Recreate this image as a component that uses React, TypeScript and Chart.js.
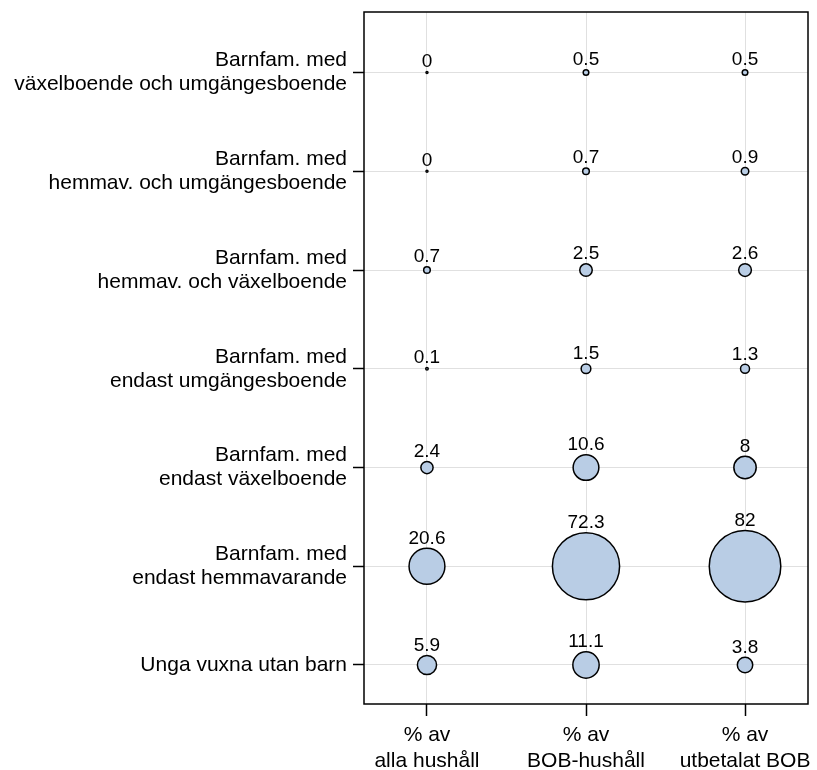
import { useEffect, useRef } from 'react';
import { Chart, registerables } from 'chart.js';

Chart.register(...registerables);

const rowLabels: string[][] = [
  ['Barnfam. med', 'växelboende och umgängesboende'],
  ['Barnfam. med', 'hemmav. och umgängesboende'],
  ['Barnfam. med', 'hemmav. och växelboende'],
  ['Barnfam. med', 'endast umgängesboende'],
  ['Barnfam. med', 'endast växelboende'],
  ['Barnfam. med', 'endast hemmavarande'],
  ['Unga vuxna utan barn'],
];

const columnLabels: string[][] = [
  ['% av', 'alla hushåll'],
  ['% av', 'BOB-hushåll'],
  ['% av', 'utbetalat BOB'],
];

const allaHushall = [0, 0, 0.7, 0.1, 2.4, 20.6, 5.9];
const bobHushall = [0.5, 0.7, 2.5, 1.5, 10.6, 72.3, 11.1];
const utbetalatBob = [0.5, 0.9, 2.6, 1.3, 8, 82, 3.8];

const seriesList = [allaHushall, bobHushall, utbetalatBob];

const FONT = 'Arial, "Liberation Sans", sans-serif';
const FILL = '#b9cde5';

function radiusFor(v: number) {
  return Math.max(1, 3.95 * Math.sqrt(v));
}

function noPad(scale: any) {
  scale.paddingTop = 0;
  scale.paddingBottom = 0;
  scale.paddingLeft = 0;
  scale.paddingRight = 0;
}

export default function App() {
  const ref = useRef<HTMLCanvasElement>(null);

  useEffect(() => {
    if (!ref.current) return;
    const nRows = rowLabels.length;

    const datasets = seriesList.map((vals, c) => ({
      label: columnLabels[c].join(' '),
      data: vals.map((v, i) => ({ x: c + 1, y: nRows - i, v })),
      backgroundColor: FILL,
      borderColor: '#000',
      borderWidth: 1.5,
      radius: (ctx: any) => radiusFor(ctx.raw ? ctx.raw.v : 0),
      clip: false as any,
    }));

    const borderPlugin = {
      id: 'plotBorder',
      afterDatasetsDraw(chart: any) {
        const { ctx, chartArea } = chart;
        ctx.save();
        ctx.strokeStyle = '#000';
        ctx.lineWidth = 1.5;
        ctx.strokeRect(chartArea.left, chartArea.top, chartArea.right - chartArea.left, chartArea.bottom - chartArea.top);
        ctx.restore();
      },
    };

    const labelPlugin = {
      id: 'bubbleLabels',
      afterDatasetsDraw(chart: any) {
        const { ctx } = chart;
        ctx.save();
        ctx.font = `19px ${FONT}`;
        ctx.fillStyle = '#000';
        ctx.textAlign = 'center';
        ctx.textBaseline = 'alphabetic';
        chart.data.datasets.forEach((ds: any, di: number) => {
          const meta = chart.getDatasetMeta(di);
          meta.data.forEach((el: any, i: number) => {
            const v = ds.data[i].v;
            const r = radiusFor(v) + 0.75;
            ctx.fillText(String(v), el.x, el.y - r - 4);
          });
        });
        ctx.restore();
      },
    };

    const chart = new Chart(ref.current, {
      type: 'bubble',
      data: { datasets } as any,
      options: {
        animation: false,
        responsive: false,
        layout: { autoPadding: false, padding: { top: 12, right: 9, left: 0, bottom: 0 } },
        plugins: { legend: { display: false }, tooltip: { enabled: false } },
        scales: {
          x: {
            type: 'linear',
            min: 0.604,
            max: 3.396,
            afterBuildTicks: (scale: any) => {
              scale.ticks = [1, 2, 3].map((v) => ({ value: v }));
            },
            afterFit: (scale: any) => {
              scale.height = 66;
              noPad(scale);
            },
            grid: { color: '#e0e0e0', lineWidth: 1, tickColor: '#000', tickLength: 12, tickWidth: 1.5 },
            border: { display: false },
            ticks: {
              autoSkip: false,
              maxRotation: 0,
              padding: 7,
              color: '#000',
              font: { family: FONT, size: 21, lineHeight: 1.2 },
              callback: (v: any) => columnLabels[Math.round(Number(v)) - 1] || '',
            },
          },
          y: {
            type: 'linear',
            min: 0.605,
            max: 7.613,
            afterBuildTicks: (scale: any) => {
              scale.ticks = [1, 2, 3, 4, 5, 6, 7].map((v) => ({ value: v }));
            },
            afterFit: (scale: any) => {
              scale.width = 364;
              noPad(scale);
            },
            grid: { color: '#e0e0e0', lineWidth: 1, tickColor: '#000', tickLength: 11, tickWidth: 1.5 },
            border: { display: false },
            ticks: {
              autoSkip: false,
              padding: 6,
              color: '#000',
              font: { family: FONT, size: 21, lineHeight: 1.14 },
              callback: (v: any) => rowLabels[nRows - Math.round(Number(v))] || '',
            },
          },
        },
      } as any,
      plugins: [borderPlugin, labelPlugin],
    });

    return () => chart.destroy();
  }, []);

  return (
    <div style={{ position: 'absolute', left: 0, top: 0, width: 817, height: 770, background: '#fff' }}>
      <canvas ref={ref} width={817} height={770} style={{ display: 'block' }} />
    </div>
  );
}
